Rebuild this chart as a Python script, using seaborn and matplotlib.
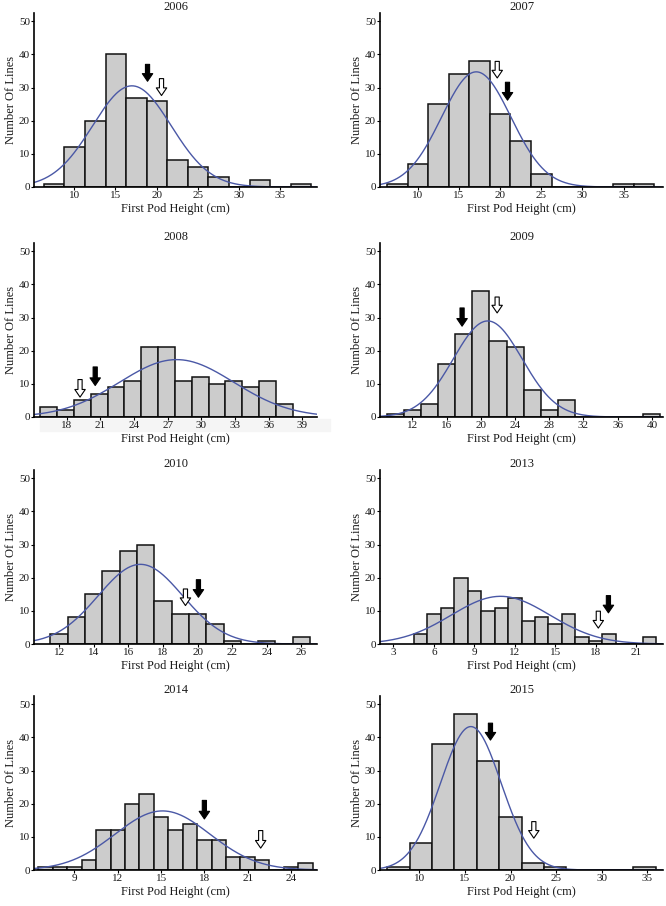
import numpy as np
import pandas as pd
import matplotlib
matplotlib.use('Agg')
import matplotlib.pyplot as plt
import seaborn as sns
from matplotlib.patches import Rectangle

# histogram data (bin edges + counts per year)
years = ['2006', '2007', '2008', '2009', '2010', '2013', '2014', '2015']

edges_2006 = [6.3, 8.8, 11.3, 13.8, 16.3, 18.8, 21.3, 23.8, 26.3, 28.8, 31.3, 33.8, 36.3, 38.8]
counts_2006 = [1, 12, 20, 40, 27, 26, 8, 6, 3, 0, 2, 0, 1]

edges_2007 = [6.25, 8.75, 11.25, 13.75, 16.25, 18.75, 21.25, 23.75, 26.25, 28.75, 31.25, 33.75, 36.25, 38.75]
counts_2007 = [1, 7, 25, 34, 38, 22, 14, 4, 0, 0, 0, 1, 1]

edges_2008 = [15.65, 17.15, 18.65, 20.15, 21.65, 23.15, 24.65, 26.15, 27.65, 29.15, 30.65, 32.15,
              33.65, 35.15, 36.65, 38.15]
counts_2008 = [3, 2, 5, 7, 9, 11, 21, 21, 11, 12, 10, 11, 9, 11, 4]

edges_2009 = [9, 11, 13, 15, 17, 19, 21, 23, 25, 27, 29, 31, 33, 35, 37, 39, 41]
counts_2009 = [1, 2, 4, 16, 25, 38, 23, 21, 8, 2, 5, 0, 0, 0, 0, 1]

edges_2010 = [11.5, 12.5, 13.5, 14.5, 15.5, 16.5, 17.5, 18.5, 19.5, 20.5, 21.5, 22.5, 23.5, 24.5, 25.5, 26.5]
counts_2010 = [3, 8, 15, 22, 28, 30, 13, 9, 9, 6, 1, 0, 1, 0, 2]

edges_2013 = [4.5, 5.5, 6.5, 7.5, 8.5, 9.5, 10.5, 11.5, 12.5, 13.5, 14.5, 15.5, 16.5, 17.5, 18.5,
              19.5, 20.5, 21.5, 22.5]
counts_2013 = [3, 9, 11, 20, 16, 10, 11, 14, 7, 8, 6, 9, 2, 1, 3, 0, 0, 2]

edges_2014 = [6.5, 7.5, 8.5, 9.5, 10.5, 11.5, 12.5, 13.5, 14.5, 15.5, 16.5, 17.5, 18.5, 19.5, 20.5,
              21.5, 22.5, 23.5, 24.5, 25.5]
counts_2014 = [1, 1, 1, 3, 12, 12, 20, 23, 16, 12, 14, 9, 9, 4, 4, 3, 0, 1, 2]

edges_2015 = [6.5, 8.95, 11.4, 13.85, 16.3, 18.75, 21.2, 23.65, 26.1, 28.55, 31.0, 33.45, 35.9]
counts_2015 = [1, 8, 38, 47, 33, 16, 2, 1, 0, 0, 0, 1]

# fitted normal curve (mean, sd) per year
fit_mean = [17.0, 17.1, 27.8, 20.8, 16.7, 10.95, 15.1, 15.65]
fit_sd = [4.77, 4.22, 5.08, 4.02, 2.44, 3.66, 3.29, 3.32]

# arrows: x position, y top, y tip
black_x = [18.9, 20.9, 20.55, 17.8, 20.05, 18.95, 18.0, 17.8]
black_top = [37.0, 31.6, 15.1, 32.9, 19.4, 14.6, 21.0, 44.3]
black_tip = [31.9, 26.2, 9.5, 27.4, 14.1, 9.4, 15.4, 39.2]
white_x = [20.6, 19.65, 19.2, 21.9, 19.3, 18.2, 21.9, 22.55]
white_top = [32.7, 37.9, 11.3, 36.2, 16.6, 9.9, 11.9, 14.6]
white_tip = [27.6, 32.9, 6.0, 31.4, 11.6, 4.8, 6.6, 9.6]

x_ranges = [(5.1, 39.5), (5.4, 39.8), (15.1, 40.3), (8.2, 41.3),
            (10.55, 26.9), (2.0, 23.0), (6.2, 25.8), (5.7, 36.7)]
x_ticks = [[10, 15, 20, 25, 30, 35], [10, 15, 20, 25, 30, 35],
           [18, 21, 24, 27, 30, 33, 36, 39], [12, 16, 20, 24, 28, 32, 36, 40],
           [12, 14, 16, 18, 20, 22, 24, 26], [3, 6, 9, 12, 15, 18, 21],
           [9, 12, 15, 18, 21, 24], [10, 15, 20, 25, 30, 35]]

all_edges = [edges_2006, edges_2007, edges_2008, edges_2009, edges_2010, edges_2013, edges_2014, edges_2015]
all_counts = [counts_2006, counts_2007, counts_2008, counts_2009, counts_2010, counts_2013, counts_2014, counts_2015]

sns.set_style('white')
plt.rcParams['font.family'] = ['Liberation Serif', 'DejaVu Serif']

W, H = 666, 906
fig = plt.figure(figsize=(W / 100, H / 100), dpi=100)

# faint grey strip behind the 2008 tick labels (as in the source image)
strip = Rectangle((40 / W, 1 - 431 / H), 290 / W, 12 / H,
                  transform=fig.transFigure, color='#f5f5f5', zorder=-5)
fig.patches.append(strip)

col_left = [34, 380]
col_width = 283
row_top = [13, 243, 470, 696]
row_height = 174

arrow_style = 'simple,head_length=0.55,head_width=0.75,tail_width=0.3'
text_col = '#1a1a1a'

for i, year in enumerate(years):
    r, c = divmod(i, 2)
    ax = fig.add_axes([col_left[c] / W, 1 - (row_top[r] + row_height) / H,
                       col_width / W, row_height / H])
    ax.patch.set_alpha(0)
    ax.set_zorder(1)
    edges = all_edges[i]
    centers = [(a + b) / 2 for a, b in zip(edges[:-1], edges[1:])]
    df = pd.DataFrame({'height': centers, 'n': all_counts[i]})
    sns.histplot(data=df, x='height', weights='n', bins=edges, ax=ax,
                 color='#cccccc', edgecolor='#111111', linewidth=1.1, alpha=1)

    # normal curve
    n_total = sum(all_counts[i])
    bw = edges[1] - edges[0]
    xs = np.linspace(x_ranges[i][0], x_ranges[i][1], 400)
    ys = n_total * bw * np.exp(-0.5 * ((xs - fit_mean[i]) / fit_sd[i]) ** 2) / (fit_sd[i] * np.sqrt(2 * np.pi))
    ax.plot(xs, ys, color='#4a58a6', lw=1.0)

    ax.annotate('', xy=(black_x[i], black_tip[i]), xytext=(black_x[i], black_top[i]),
                arrowprops=dict(arrowstyle=arrow_style, fc='black', ec='black',
                                lw=0.8, shrinkA=0, shrinkB=0, mutation_scale=10))
    ax.annotate('', xy=(white_x[i], white_tip[i]), xytext=(white_x[i], white_top[i]),
                arrowprops=dict(arrowstyle=arrow_style, fc='white', ec='black',
                                lw=0.8, shrinkA=0, shrinkB=0, mutation_scale=10))

    ax.set_xlim(*x_ranges[i])
    ax.set_ylim(0, 52.5)
    ax.set_xticks(x_ticks[i])
    ax.set_yticks([0, 10, 20, 30, 40, 50])
    ax.tick_params(axis='both', labelsize=8, length=2, width=0.8, pad=1,
                   direction='out', color='black', labelcolor=text_col)
    ax.tick_params(axis='both', which='both', bottom=True, left=True)
    sns.despine(ax=ax)
    for s in ['left', 'bottom']:
        ax.spines[s].set_linewidth(1.2)
        ax.spines[s].set_color('black')
    ax.set_title(year, fontsize=9, pad=2, color=text_col)
    ax.set_xlabel('First Pod Height (cm)', fontsize=9, labelpad=2, color=text_col)
    ax.set_ylabel('Number Of Lines', fontsize=9, labelpad=1, color=text_col)

plt.savefig('out.png', dpi=100)
